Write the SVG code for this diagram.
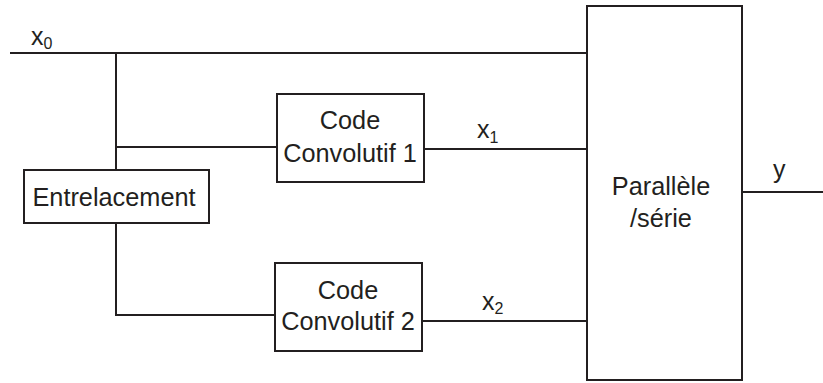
<svg xmlns="http://www.w3.org/2000/svg" width="823" height="383" viewBox="0 0 823 383">
<style>
.box{fill:#fff;stroke:#231f20;stroke-width:2}
.ln{fill:none;stroke:#231f20;stroke-width:2}
text{font-family:"Liberation Sans",Arial,sans-serif;fill:#231f20}
.t{font-size:25.3px;text-anchor:middle}
.lb{font-size:25px}
.sub{font-size:16px}
</style>
<rect width="823" height="383" fill="#fff"/>
<g id="connectors">
<path class="ln" d="M10 53H588"/>
<path class="ln" d="M116 53V170"/>
<path class="ln" d="M116 147H277"/>
<path class="ln" d="M116 223V315H275"/>
<path class="ln" d="M424 149H588"/>
<path class="ln" d="M422 321H588"/>
<path class="ln" d="M742 192H823"/>
</g>
<g id="labels">
<text class="lb" x="31" y="45">x<tspan class="sub" dy="4">0</tspan></text>
<text class="lb" x="477" y="138">x<tspan class="sub" dy="5">1</tspan></text>
<text class="lb" x="482" y="310">x<tspan class="sub" dy="4">2</tspan></text>
<text class="lb" x="773" y="178">y</text>
</g>
<g id="entrelacement">
<rect class="box" x="24" y="170" width="185" height="53"/>
<text class="t" x="114" y="206">Entrelacement</text>
</g>
<g id="code1">
<rect class="box" x="277" y="94" width="147" height="88"/>
<text class="t" x="350" y="129">Code</text>
<text class="t" x="350" y="162">Convolutif 1</text>
</g>
<g id="code2">
<rect class="box" x="275" y="263" width="147" height="88"/>
<text class="t" x="348" y="299">Code</text>
<text class="t" x="348" y="330">Convolutif 2</text>
</g>
<g id="parallele">
<rect class="box" x="587" y="6" width="155" height="374"/>
<text class="t" x="661" y="195">Parallèle</text>
<text class="t" x="661" y="227">/série</text>
</g>
</svg>
